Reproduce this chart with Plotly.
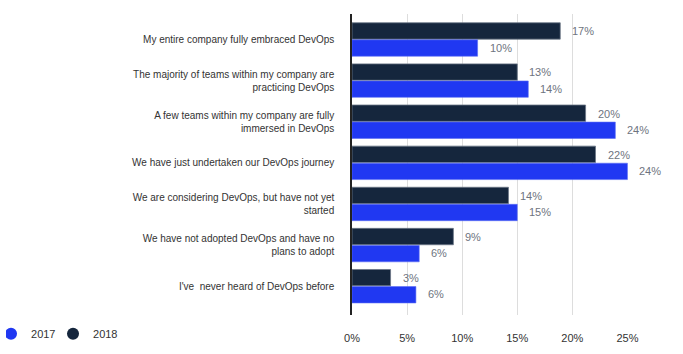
import plotly.graph_objects as go

categories = [
    "My entire company fully embraced DevOps",
    "The majority of teams within my company are<br>practicing DevOps",
    "A few teams within my company are fully<br>immersed in DevOps",
    "We have just undertaken our DevOps journey",
    "We are considering DevOps, but have not yet<br>started",
    "We have not adopted DevOps and have no<br>plans to adopt",
    "I've  never heard of DevOps before",
]
values_2018 = [18.9, 15.0, 21.2, 22.1, 14.2, 9.2, 3.5]
values_2017 = [11.4, 16.0, 23.9, 25.0, 15.0, 6.1, 5.8]
labels_2018 = ["17%", "13%", "20%", "22%", "14%", "9%", "3%"]
labels_2017 = ["10%", "14%", "24%", "24%", "15%", "6%", "6%"]
x_ticks = [0, 5, 10, 15, 20, 25]
x_ticktext = ["0%", "5%", "10%", "15%", "20%", "25%"]

DARK = "#15263d"
BLUE = "#2038f2"
FONT = "Liberation Sans, Arial, sans-serif"

fig = go.Figure()
fig.add_trace(go.Bar(
    y=categories, x=values_2018, orientation="h", name="2018",
    marker=dict(color=DARK, line=dict(color="#6b7686", width=0.8)),
    showlegend=False, offsetgroup="a",
))
fig.add_trace(go.Bar(
    y=categories, x=values_2017, orientation="h", name="2017",
    marker=dict(color=BLUE, line=dict(color="#5b6cf5", width=0.6)),
    showlegend=False, offsetgroup="b",
))
# legend-only circle markers
fig.add_trace(go.Scatter(x=[None], y=[None], mode="markers", name="2017",
                         marker=dict(color=BLUE, size=12, symbol="circle")))
fig.add_trace(go.Scatter(x=[None], y=[None], mode="markers", name="2018",
                         marker=dict(color=DARK, size=12, symbol="circle")))

annotations = []
for i, cat in enumerate(categories):
    annotations.append(dict(x=values_2018[i], y=i - 0.2, xref="x", yref="y",
                            text=labels_2018[i], showarrow=False, xanchor="left",
                            xshift=10, font=dict(size=11, color="#6e7480", family=FONT)))
    annotations.append(dict(x=values_2017[i], y=i + 0.2, xref="x", yref="y",
                            text=labels_2017[i], showarrow=False, xanchor="left",
                            xshift=10, font=dict(size=11, color="#6e7480", family=FONT)))

fig.update_layout(
    width=683, height=354,
    margin=dict(l=352, r=55, t=14, b=39, autoexpand=False),
    paper_bgcolor="white", plot_bgcolor="white",
    barmode="group", bargap=0.17, bargroupgap=0.04,
    font=dict(family=FONT, size=11, color="#333333"),
    annotations=annotations,
    legend=dict(orientation="h", xref="container", x=0.0088, xanchor="left",
                yref="container", y=0.057, yanchor="middle",
                font=dict(size=11, color="#333333"),
                entrywidth=32, entrywidthmode="pixels", indentation=-15,
                traceorder="normal", bgcolor="rgba(0,0,0,0)"),
    xaxis=dict(range=[0, 25.05], tickvals=x_ticks, ticktext=x_ticktext,
               showgrid=True, gridcolor="#dddddd", gridwidth=1, zeroline=False,
               ticks="outside", ticklen=13, tickcolor="rgba(0,0,0,0)",
               tickfont=dict(size=11, color="#333333"), fixedrange=True),
    yaxis=dict(categoryorder="array", categoryarray=categories, type="category",
               range=[6.7, -0.62], showline=True, linecolor="#222222", linewidth=1.5,
               ticks="outside", ticklen=14, tickcolor="rgba(0,0,0,0)",
               tickfont=dict(size=10, color="#333333")),
)

fig.write_html("out.html")
